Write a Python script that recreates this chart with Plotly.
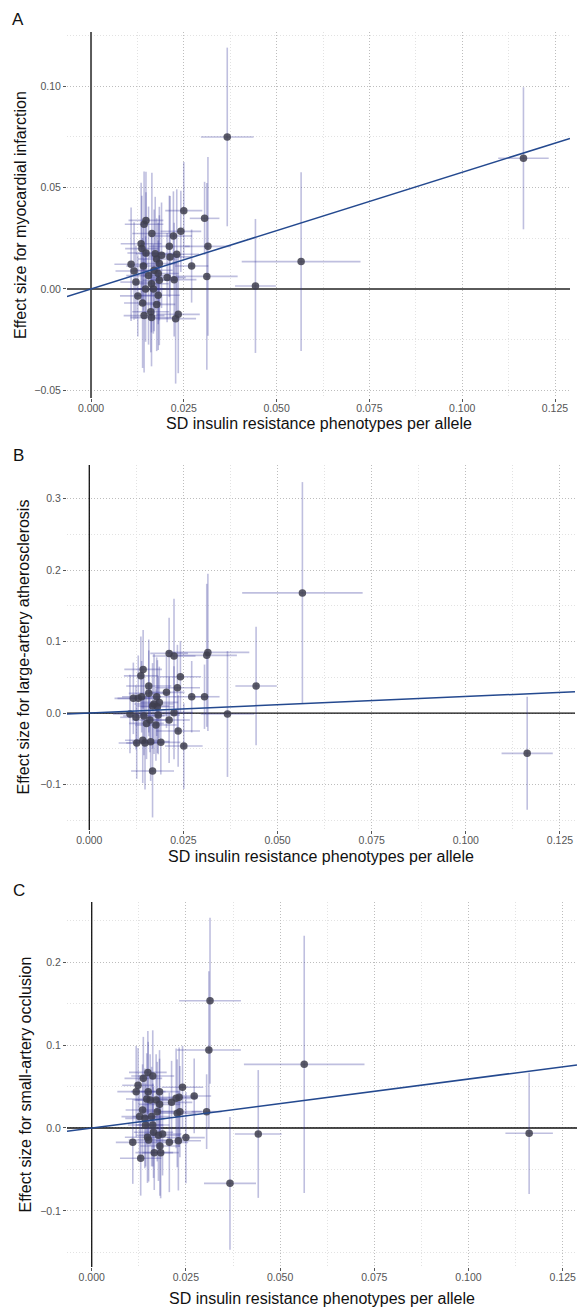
import plotly.graph_objects as go

W, H = 581, 1309

# ---------------- Panel A: myocardial infarction ----------------
xa = [0.0108, 0.0116, 0.0121, 0.0126, 0.0135, 0.0137, 0.0139, 0.0143, 0.0148, 0.0143,
      0.0148, 0.0141, 0.0155, 0.0164, 0.0147, 0.0161, 0.0163, 0.0168, 0.0173, 0.0177,
      0.0181, 0.0184, 0.0181, 0.0177, 0.0190, 0.0184, 0.0170, 0.0163, 0.0205, 0.0211,
      0.0213, 0.0222, 0.0224, 0.0228, 0.0235, 0.0231, 0.0242, 0.0250, 0.0271, 0.0306,
      0.0312, 0.0315, 0.0367, 0.0443, 0.0566, 0.1165]
ya = [0.0122, 0.0089, 0.0034, -0.0034, 0.0223, 0.0199, -0.0069, 0.0319, 0.0338, -0.0131,
      0.0177, 0.0113, 0.0066, 0.0273, 0.0000, -0.0112, -0.0141, 0.0000, 0.0174, 0.0148,
      0.0076, 0.0043, -0.0031, -0.0076, 0.0166, 0.0125, 0.0092, 0.0026, 0.0056, 0.0210,
      0.0158, 0.0261, 0.0046, -0.0146, -0.0125, 0.0171, 0.0284, 0.0386, 0.0113, 0.0348,
      0.0062, 0.0210, 0.0749, 0.0015, 0.0135, 0.0644]
sxa = [0.0045, 0.0050, 0.0042, 0.0048, 0.0055, 0.0045, 0.0050, 0.0052, 0.0047, 0.0055,
       0.0050, 0.0046, 0.0060, 0.0053, 0.0048, 0.0050, 0.0057, 0.0044, 0.0052, 0.0050,
       0.0055, 0.0045, 0.0058, 0.0050, 0.0052, 0.0048, 0.0050, 0.0046, 0.0050, 0.0055,
       0.0057, 0.0050, 0.0060, 0.0055, 0.0058, 0.0060, 0.0055, 0.0050, 0.0045, 0.0040,
       0.0083, 0.0062, 0.0071, 0.0055, 0.0160, 0.0068]
sya = [0.028, 0.024, 0.018, 0.020, 0.030, 0.026, 0.032, 0.026, 0.024, 0.028,
       0.030, 0.022, 0.034, 0.030, 0.026, 0.020, 0.024, 0.022, 0.028, 0.020,
       0.025, 0.032, 0.027, 0.023, 0.026, 0.028, 0.030, 0.024, 0.022, 0.025,
       0.030, 0.022, 0.028, 0.032, 0.029, 0.032, 0.020, 0.024, 0.018, 0.018,
       0.046, 0.044, 0.044, 0.033, 0.044, 0.035]
slope_a = 0.575

# ---------------- Panel B: large-artery atherosclerosis ----------------
xb = [0.0108, 0.0117, 0.0124, 0.0126, 0.0130, 0.0137, 0.0143, 0.0139, 0.0142, 0.0145,
      0.0148, 0.0152, 0.0158, 0.0158, 0.0161, 0.0163, 0.0168, 0.0168, 0.0172, 0.0179,
      0.0177, 0.0181, 0.0183, 0.0186, 0.0190, 0.0205, 0.0212, 0.0212, 0.0225, 0.0225,
      0.0234, 0.0236, 0.0242, 0.0251, 0.0272, 0.0306, 0.0312, 0.0315, 0.0367, 0.0443,
      0.0566, 0.1163]
yb = [-0.0014, 0.0205, -0.0060, -0.0420, 0.0205, 0.0520, 0.0610, 0.0228, -0.0380, -0.0040,
      -0.0420, -0.0145, 0.0378, 0.0275, -0.0098, -0.0400, -0.0810, 0.0098, 0.0126, 0.0228,
      -0.0168, 0.0089, -0.0028, 0.0149, -0.0410, 0.0289, 0.0834, -0.0098, 0.0797, 0.0005,
      0.0354, -0.0252, 0.0508, -0.0462, 0.0228, 0.0228, 0.0807, 0.0848, -0.0014, 0.0378,
      0.1680, -0.0564]
sxb = [0.0045, 0.0050, 0.0042, 0.0048, 0.0055, 0.0045, 0.0050, 0.0052, 0.0047, 0.0055,
       0.0050, 0.0046, 0.0060, 0.0053, 0.0048, 0.0050, 0.0057, 0.0044, 0.0052, 0.0050,
       0.0055, 0.0045, 0.0058, 0.0050, 0.0052, 0.0048, 0.0050, 0.0055, 0.0057, 0.0050,
       0.0060, 0.0058, 0.0055, 0.0050, 0.0045, 0.0040, 0.0080, 0.0110, 0.0071, 0.0055,
       0.0160, 0.0068]
syb = [0.055, 0.050, 0.045, 0.050, 0.060, 0.055, 0.055, 0.050, 0.060, 0.055,
       0.065, 0.050, 0.065, 0.060, 0.045, 0.055, 0.065, 0.060, 0.070, 0.055,
       0.050, 0.065, 0.055, 0.050, 0.045, 0.050, 0.050, 0.060, 0.080, 0.065,
       0.060, 0.050, 0.050, 0.060, 0.050, 0.045, 0.100, 0.110, 0.088, 0.083,
       0.155, 0.079]
slope_b = 0.231

# ---------------- Panel C: small-artery occlusion ----------------
xc = [0.0109, 0.0118, 0.0123, 0.0127, 0.0130, 0.0135, 0.0137, 0.0141, 0.0143, 0.0146,
      0.0149, 0.0150, 0.0148, 0.0151, 0.0155, 0.0159, 0.0162, 0.0162, 0.0164, 0.0166,
      0.0171, 0.0174, 0.0177, 0.0180, 0.0181, 0.0183, 0.0188, 0.0180, 0.0206, 0.0212,
      0.0224, 0.0227, 0.0230, 0.0234, 0.0241, 0.0250, 0.0232, 0.0272, 0.0305, 0.0311,
      0.0314, 0.0367, 0.0442, 0.0564, 0.1161]
yc = [-0.0173, 0.0438, 0.0514, 0.0137, -0.0365, 0.0217, 0.0598, 0.0116, 0.0036, 0.0350,
      0.0670, 0.0438, -0.0112, -0.0145, 0.0337, 0.0137, 0.0627, 0.0036, -0.0052, -0.0297,
      0.0337, 0.0197, -0.0088, 0.0438, -0.0217, -0.0297, -0.0072, 0.0285, -0.0173, 0.0309,
      0.0357, 0.0177, -0.0153, 0.0197, 0.0490, -0.0116, 0.0370, 0.0386, 0.0197, 0.0940,
      0.1534, -0.0667, -0.0072, 0.0767, -0.0064]
sxc = [0.0045, 0.0050, 0.0042, 0.0048, 0.0055, 0.0045, 0.0050, 0.0052, 0.0047, 0.0055,
       0.0050, 0.0046, 0.0060, 0.0053, 0.0048, 0.0050, 0.0057, 0.0044, 0.0052, 0.0050,
       0.0055, 0.0045, 0.0058, 0.0050, 0.0052, 0.0048, 0.0050, 0.0055, 0.0050, 0.0055,
       0.0057, 0.0050, 0.0060, 0.0058, 0.0055, 0.0050, 0.0050, 0.0045, 0.0040, 0.0085,
       0.0082, 0.0069, 0.0062, 0.0160, 0.0063]
syc = [0.050, 0.055, 0.045, 0.050, 0.045, 0.055, 0.050, 0.060, 0.050, 0.055,
       0.050, 0.060, 0.055, 0.050, 0.055, 0.060, 0.055, 0.050, 0.055, 0.045,
       0.055, 0.060, 0.055, 0.050, 0.060, 0.055, 0.050, 0.055, 0.060, 0.050,
       0.060, 0.065, 0.060, 0.055, 0.050, 0.055, 0.060, 0.045, 0.045, 0.095,
       0.100, 0.080, 0.077, 0.155, 0.073]
slope_c = 0.59

y_titles = ["Effect size for myocardial infarction",
            "Effect size for large-artery atherosclerosis",
            "Effect size for small-artery occlusion"]
x_title = "SD insulin resistance phenotypes per allele"
panel_labels = ["A", "B", "C"]

x_ticks = [0.0, 0.025, 0.05, 0.075, 0.1, 0.125]
x_ticktext = ["0.000", "0.025", "0.050", "0.075", "0.100", "0.125"]
y_ticks = [[-0.05, 0.0, 0.05, 0.10], [-0.1, 0.0, 0.1, 0.2, 0.3], [-0.1, 0.0, 0.1, 0.2]]
y_ticktext = [["\u22120.05", "0.00", "0.05", "0.10"],
              ["\u22120.1", "0.0", "0.1", "0.2", "0.3"],
              ["\u22120.1", "0.0", "0.1", "0.2"]]

# ---------------- layout geometry (pixels) ----------------
plot_px = [  # left, right, top, bottom
    (67, 570, 32, 398),
    (67, 575, 465, 830),
    (67, 577, 902, 1267),
]
x_ranges = [[-0.00647, 0.12904], [-0.00592, 0.1290], [-0.00656, 0.1288]]
y_ranges = [[-0.0537, 0.1266], [-0.1636, 0.3469], [-0.1675, 0.2723]]
zero_line_style = [("#5a5a5a", 2.0), ("#111111", 1.3), ("#111111", 1.3)]
xtitle_py = [423, 856, 1298]
ytitle_px = [20, 23, 25]
label_pos = [(18, 20), (18, 455), (19, 890)]

datasets = [(xa, ya, sxa, sya, slope_a), (xb, yb, sxb, syb, slope_b), (xc, yc, sxc, syc, slope_c)]

fig = go.Figure()
FONT = "Liberation Sans, Arial, sans-serif"
bar_col = "rgba(55,55,155,0.32)"
pt_col = "rgba(62,62,78,0.85)"
line_col = "#24498f"
DOT = "1px,2px"
TICK_SIZE = 10.5

layout = dict(width=W, height=H, margin=dict(l=0, r=0, t=0, b=0),
              paper_bgcolor="white", plot_bgcolor="white", showlegend=False,
              font=dict(family=FONT))
annotations = []

for i, (xs, ys, sx, sy, slope) in enumerate(datasets):
    n = "" if i == 0 else str(i + 1)
    xref, yref = "x" + n, "y" + n
    l, r, t, b = plot_px[i]
    layout["xaxis" + n] = dict(
        domain=[l / W, r / W], range=x_ranges[i], anchor=yref,
        tickvals=x_ticks, ticktext=x_ticktext, ticks="outside", ticklen=3,
        tickcolor="#555555", tickwidth=1, ticklabeloverflow="allow",
        ticklabelstandoff=-3,
        tickfont=dict(size=TICK_SIZE, color="#555555", family=FONT),
        showgrid=True, gridcolor="#bdbdbd", griddash=DOT, gridwidth=1,
        minor=dict(tickvals=[0.0125, 0.0375, 0.0625, 0.0875, 0.1125],
                   showgrid=True, gridcolor="#e2e2e2", griddash=DOT, gridwidth=1),
        zeroline=False, showline=False, fixedrange=True,
    )
    ymin_tick = y_ticks[i]
    step = ymin_tick[1] - ymin_tick[0]
    minor_vals = [v - step / 2 for v in ymin_tick] + [ymin_tick[-1] + step / 2]
    layout["yaxis" + n] = dict(
        domain=[1 - b / H, 1 - t / H], range=y_ranges[i], anchor=xref,
        tickvals=y_ticks[i], ticktext=y_ticktext[i], ticks="outside", ticklen=3,
        tickcolor="#555555", tickwidth=1, ticklabeloverflow="allow",
        tickfont=dict(size=TICK_SIZE, color="#555555", family=FONT),
        showgrid=True, gridcolor="#bdbdbd", griddash=DOT, gridwidth=1,
        minor=dict(tickvals=minor_vals, showgrid=True, gridcolor="#e2e2e2",
                   griddash=DOT, gridwidth=1),
        zeroline=False, showline=False, fixedrange=True,
    )

    xr = x_ranges[i]
    yr = y_ranges[i]
    lc, lw = zero_line_style[i]
    # reference lines at x = 0 and y = 0 spanning the whole panel
    fig.add_trace(go.Scatter(x=[0, 0], y=yr, mode="lines", xaxis=xref, yaxis=yref,
                             line=dict(color=lc, width=lw), hoverinfo="skip"))
    fig.add_trace(go.Scatter(x=xr, y=[0, 0], mode="lines", xaxis=xref, yaxis=yref,
                             line=dict(color=lc, width=lw), hoverinfo="skip"))

    fig.add_trace(go.Scatter(
        x=xs, y=ys, mode="markers", xaxis=xref, yaxis=yref,
        error_x=dict(type="data", array=sx, visible=True, color=bar_col, thickness=1.6, width=0),
        error_y=dict(type="data", array=sy, visible=True, color=bar_col, thickness=1.6, width=0),
        marker=dict(size=7.5, color=pt_col, line=dict(width=0)),
        hoverinfo="x+y",
    ))
    fig.add_trace(go.Scatter(
        x=xr, y=[slope * v for v in xr], mode="lines", xaxis=xref, yaxis=yref,
        line=dict(color=line_col, width=1.5), hoverinfo="skip",
    ))

    annotations.append(dict(text=x_title, xref="paper", yref="paper",
                            x=((l + r) / 2) / W, y=1 - xtitle_py[i] / H,
                            xanchor="center", yanchor="middle", showarrow=False,
                            font=dict(size=16, color="#111111", family=FONT)))
    annotations.append(dict(text=y_titles[i], xref="paper", yref="paper",
                            x=ytitle_px[i] / W, y=1 - ((t + b) / 2) / H, textangle=-90,
                            xanchor="center", yanchor="middle", showarrow=False,
                            font=dict(size=16, color="#111111", family=FONT)))
    lx, ly = label_pos[i]
    annotations.append(dict(text=panel_labels[i], xref="paper", yref="paper",
                            x=lx / W, y=1 - ly / H, xanchor="center", yanchor="middle",
                            showarrow=False, font=dict(size=17, color="#111111", family=FONT)))

layout["annotations"] = annotations
fig.update_layout(**layout)
fig.write_html("out.html", config={"displayModeBar": False},
               post_script="document.body.style.margin='0';document.body.style.padding='0';")
